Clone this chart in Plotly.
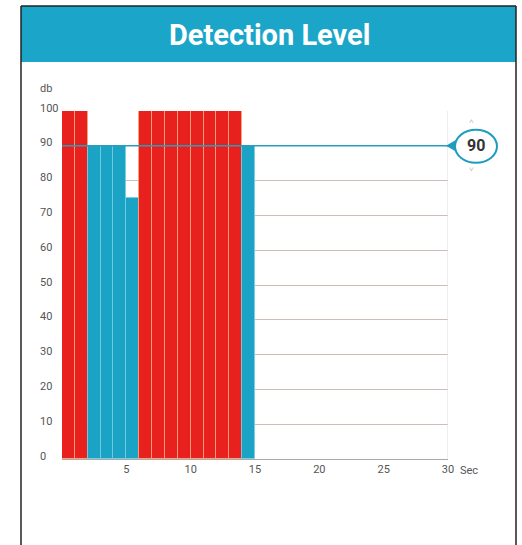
import plotly.graph_objects as go

# ---- data ----
seconds = list(range(1, 16))
levels = [100, 100, 90, 90, 90, 75, 100, 100, 100, 100, 100, 100, 100, 100, 90]
threshold = 90
y_ticks = [0, 10, 20, 30, 40, 50, 60, 70, 80, 90, 100]
x_ticks = [5, 10, 15, 20, 25, 30]
title_text = "Detection Level"
y_unit = "db"
x_unit = "Sec"

RED = "#E8211F"
BLUE = "#1BA3C6"
TEAL = "#1BA6C9"

W, H = 522, 545
def px(x):
    return x / W
def py(y):
    return 1 - y / H

colors = [RED if v > threshold else BLUE for v in levels]
edge_colors = ["rgba(250,170,120,0.8)" if v > threshold else "rgba(120,205,225,0.8)" for v in levels]

fig = go.Figure()
fig.add_trace(go.Bar(
    x=[s - 0.5 for s in seconds], y=levels, width=1,
    marker=dict(color=colors, line=dict(color=edge_colors, width=1)),
    hoverinfo="skip", showlegend=False,
))

# initial size leaves room for the page's default 8px body margin;
# the post script removes that margin and restores the full 522x545 size
fig.update_layout(
    width=W - 16, height=H - 16, autosize=False,
    margin=dict(l=0, r=0, t=0, b=0),
    paper_bgcolor="white", plot_bgcolor="white",
    bargap=0,
    font=dict(family="Roboto, sans-serif", color="#555"),
    xaxis=dict(domain=[px(62), px(448)], range=[0, 30], tickvals=x_ticks,
               ticktext=[str(t) for t in x_ticks], showgrid=False, zeroline=False,
               showline=True, linecolor="#aaa", linewidth=1, ticks="",
               tickfont=dict(size=11, color="#555"), fixedrange=True, automargin=False),
    yaxis=dict(domain=[py(459), py(111)], range=[0, 100], tickvals=y_ticks,
               showticklabels=False, showgrid=True, gridcolor="#cdbdb6", gridwidth=1,
               zeroline=False, showline=False, fixedrange=True, automargin=False),
)

shapes = []
shapes.append(dict(type="rect", xref="paper", yref="paper", x0=px(21), x1=px(516), y0=py(62), y1=py(6),
                   fillcolor=TEAL, line=dict(width=0), layer="below"))
shapes.append(dict(type="line", xref="paper", yref="paper", x0=px(21), x1=px(21), y0=py(6), y1=0,
                   line=dict(color="#222", width=1.5)))
shapes.append(dict(type="line", xref="paper", yref="paper", x0=px(516), x1=px(516), y0=py(6), y1=0,
                   line=dict(color="#222", width=1.5)))
shapes.append(dict(type="line", xref="paper", yref="paper", x0=px(21), x1=px(516), y0=py(6), y1=py(6),
                   line=dict(color="#222", width=1.5)))
shapes.append(dict(type="line", xref="x", yref="y", x0=30, x1=30, y0=0, y1=100,
                   line=dict(color="#ddd", width=1)))
shapes.append(dict(type="line", xref="x", yref="y", x0=0, x1=30, y0=threshold, y1=threshold,
                   line=dict(color="#2a9dbd", width=1.6), layer="above"))
shapes.append(dict(type="path", xref="paper", yref="y", ysizemode="pixel", yanchor=threshold,
                   path=f"M {px(446)} 0 L {px(458)} 7 L {px(458)} -7 Z",
                   fillcolor="#1d9dbd", line=dict(width=0)))
shapes.append(dict(type="circle", xref="paper", yref="y", ysizemode="pixel", yanchor=threshold,
                   x0=px(455), x1=px(497), y0=-17, y1=16,
                   fillcolor="white", line=dict(color="#1d9dbd", width=2)))
fig.update_layout(shapes=shapes)

ann = []
ann.append(dict(text=f"<b>{title_text}</b>", xref="paper", yref="paper", x=px(269), y=py(35),
                showarrow=False, font=dict(size=29, color="white", family="Roboto, sans-serif"),
                xanchor="center", yanchor="middle"))
for t in y_ticks:
    ann.append(dict(text=str(t), xref="paper", yref="y", x=px(38), y=t, yshift=3,
                    showarrow=False, xanchor="left", yanchor="middle",
                    font=dict(size=11, color="#555")))
ann.append(dict(text=y_unit, xref="paper", yref="paper", x=px(38), y=py(88), showarrow=False,
                xanchor="left", yanchor="middle", font=dict(size=11, color="#555")))
ann.append(dict(text=x_unit, xref="x", yref="paper", x=30, y=py(470), xshift=10, showarrow=False,
                xanchor="left", yanchor="middle", font=dict(size=11, color="#555")))
ann.append(dict(text=f"<b>{threshold}</b>", xref="paper", yref="y", x=px(476), y=threshold,
                showarrow=False, xanchor="center", yanchor="middle",
                font=dict(size=16, color="#333")))
ann.append(dict(text="\u02c4", xref="paper", yref="y", x=px(476), y=threshold, yshift=24,
                showarrow=False, font=dict(size=8, color="#bbb")))
ann.append(dict(text="\u02c5", xref="paper", yref="y", x=px(476), y=threshold, yshift=-24,
                showarrow=False, font=dict(size=8, color="#bbb")))
fig.update_layout(annotations=ann)

post = f"""
document.body.style.margin='0';
document.body.style.overflow='hidden';
var gd=document.getElementById('{{plot_id}}');
gd.style.width='{W}px'; gd.style.height='{H}px';
Plotly.relayout(gd, {{width:{W}, height:{H}}});
"""
fig.write_html("out.html", post_script=post, config={"displayModeBar": False})
